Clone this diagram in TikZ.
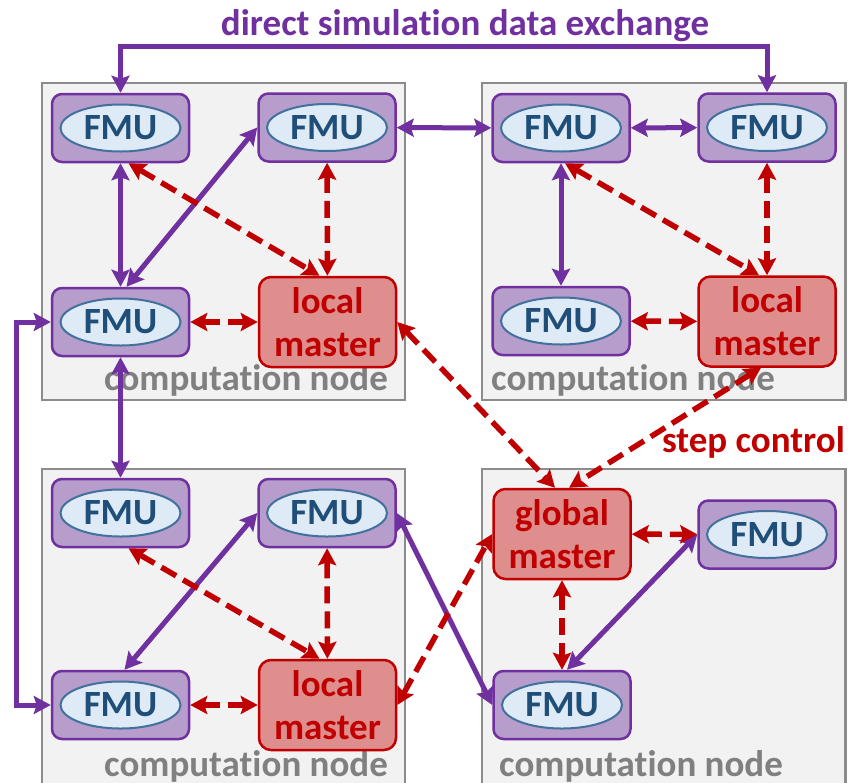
\documentclass[tikz,border=0pt]{standalone}
\usepackage{fontspec}
\setmainfont{Carlito}[Ligatures=NoCommon]
\usetikzlibrary{arrows.meta}

\definecolor{fmupurple}{HTML}{7030A0}
\definecolor{fmulilac}{HTML}{B69DCB}
\definecolor{ellblue}{HTML}{DEEBF7}
\definecolor{ellline}{HTML}{41719C}
\definecolor{fmutext}{HTML}{1F4E79}
\definecolor{ctrlred}{HTML}{C00000}
\definecolor{masterpink}{HTML}{DF8E8E}
\definecolor{nodegray}{HTML}{F2F2F2}
\definecolor{nodeline}{HTML}{8C8C8C}
\definecolor{labelgray}{HTML}{808080}

\newcommand{\bigfont}{\bfseries\fontsize{37}{43}\selectfont}

\tikzset{
    fmu/.style={draw=fmupurple, fill=fmulilac, line width=2.5pt, rounded corners=10pt,
        minimum width=137pt, minimum height=68pt, text=fmutext, font=\bigfont,
        path picture={\draw[draw=ellline, fill=ellblue, line width=2pt]
            (path picture bounding box.center) ellipse [x radius=60pt, y radius=23.5pt];}},
    master/.style={draw=ctrlred, fill=masterpink, line width=2.5pt, rounded corners=12pt,
        minimum width=137pt, minimum height=90pt, text=ctrlred, font=\bigfont, align=center},
    compnode/.style={draw=nodeline, fill=nodegray, line width=2.5pt},
    complabel/.style={anchor=base west, inner sep=0pt, text=labelgray, font=\bigfont},
    dataflow/.style={draw=fmupurple, line width=5pt,
        {Stealth[length=17pt,width=18pt,inset=3pt]}-{Stealth[length=17pt,width=18pt,inset=3pt]}},
    stepflow/.style={draw=ctrlred, line width=5.5pt, dash pattern=on 17pt off 8pt,
        {Stealth[length=17pt,width=18pt,inset=3pt]}-{Stealth[length=17pt,width=18pt,inset=3pt]}},
}

\begin{document}
\begin{tikzpicture}[x=1pt,y=-1pt]
    \clip (0,0) rectangle (848,782);

    % Rechenknoten
    \draw[compnode] (42,83) rectangle (405,400);
    \draw[compnode] (482,83) rectangle (845.5,400);
    \draw[compnode] (42,469) rectangle (405,800);
    \draw[compnode] (482,469) rectangle (845.5,800);
    \node[complabel] (labelA) at (104,390) {computation node};
    \node[complabel] (labelB) at (491,390) {computation node};
    \node[complabel] (labelC) at (104,776) {computation node};
    \node[complabel] (labelD) at (499,776) {computation node};

    \node[anchor=base, inner sep=0pt, text=fmupurple, font=\bigfont] (title) at (465,35) {direct simulation data exchange};
    \node[anchor=base east, inner sep=0pt, text=ctrlred, font=\bigfont] (steplabel) at (845,452) {step control};

    % FMUs und Master
    \node[fmu] (a1) at (120.5,128) {FMU};
    \node[fmu] (a2) at (327,127.5) {FMU};
    \node[fmu] (a3) at (120.5,322) {FMU};
    \node[master] (lmA) at (327.5,322) {local\\master};

    \node[fmu] (b1) at (561,128) {FMU};
    \node[fmu] (b2) at (767,127.5) {FMU};
    \node[fmu] (b3) at (561,321) {FMU};
    \node[master] (lmB) at (767,321.5) {local\\master};

    \node[fmu] (c1) at (120.5,513) {FMU};
    \node[fmu] (c2) at (327,513) {FMU};
    \node[fmu] (c3) at (120.5,705) {FMU};
    \node[master] (lmC) at (327.5,705) {local\\master};

    \node[master] (gm) at (562,534) {global\\master};
    \node[fmu] (d1) at (767,534.5) {FMU};
    \node[fmu] (d2) at (562,705) {FMU};

    % Datenaustausch
    \coordinate (top) at (440,46);
    \coordinate (loop) at (16,510);
    \draw[dataflow] (a1.north) |- (top) -| (b2.north);
    \draw[dataflow] (a3.west) -| (loop) |- (c3.west);
    \draw[dataflow] (a1) -- (a3);
    \draw[dataflow] (a2.west) -- ([xshift=6pt]a3.north);
    \draw[dataflow] (a3) -- (c1);
    \draw[dataflow] (a2) -- (b1);
    \draw[dataflow] (b1) -- (b2);
    \draw[dataflow] (b1) -- (b3);
    \draw[dataflow] (c2.west) -- ([xshift=4pt]c3.north);
    \draw[dataflow] (c2.east) -- (d2.west);
    \draw[dataflow] ([xshift=5pt]d2.north) -- (d1.west);

    % Schrittsteuerung
    \draw[stepflow] ([xshift=8pt]a1.south) -- ([xshift=-8pt]lmA.north);
    \draw[stepflow] (a2) -- (lmA);
    \draw[stepflow] (a3) -- (lmA);
    \draw[stepflow] ([xshift=4pt]b1.south) -- ([xshift=-8pt]lmB.north);
    \draw[stepflow] (b2) -- (lmB);
    \draw[stepflow] (b3) -- (lmB);
    \draw[stepflow] ([xshift=8pt]c1.south) -- ([xshift=-8pt]lmC.north);
    \draw[stepflow] (c2) -- (lmC);
    \draw[stepflow] (c3) -- (lmC);
    \draw[stepflow] (lmA.east) -- ([xshift=-7pt]gm.north);
    \draw[stepflow] ([xshift=-6pt]lmB.south) -- ([xshift=7pt]gm.north);
    \draw[stepflow] (lmC.east) -- (gm.west);
    \draw[stepflow] (gm) -- (d1);
    \draw[stepflow] (gm) -- (d2);
\end{tikzpicture}
\end{document}
